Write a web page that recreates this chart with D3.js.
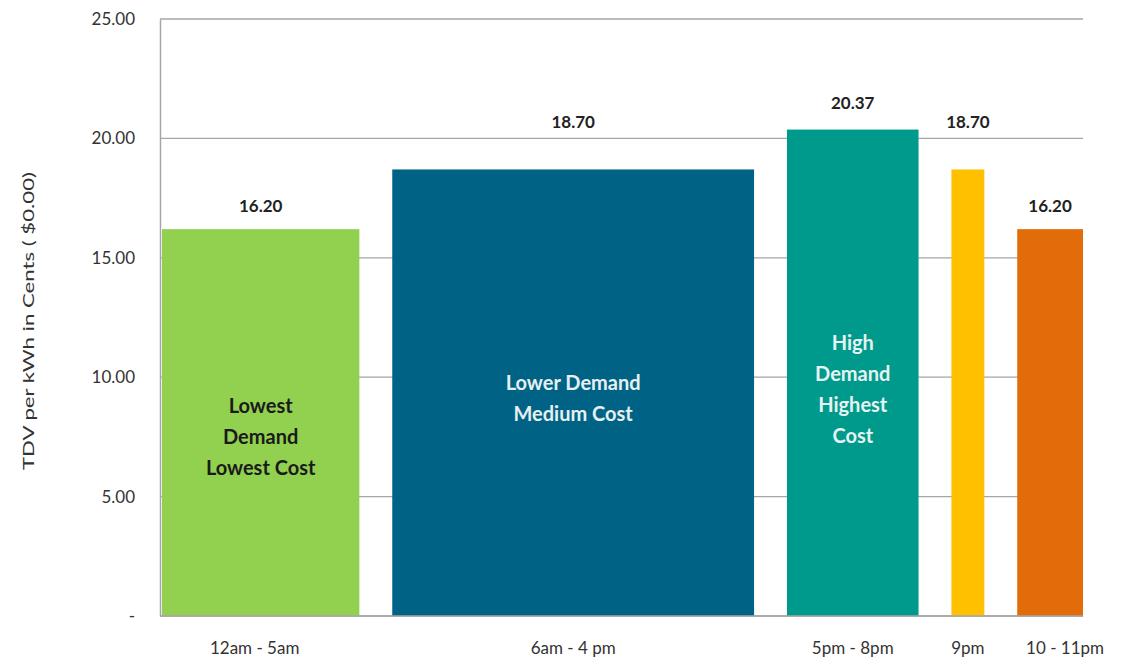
<!DOCTYPE html>
<html lang="en">
<head>
<meta charset="UTF-8">
<script src="https://d3js.org/d3.v7.min.js"></script>
<title>TDV per kWh</title>
<style>
  body { margin: 0; background: #fff; }
  text { font-family: Lato, "Open Sans", sans-serif; }
</style>
</head>
<body>
<div id="chart"></div>
<script>
    // data
    const periods = ["12am - 5am", "6am - 4 pm", "5pm - 8pm", "9pm", "10 - 11pm"]
    const hours = [6, 11, 4, 1, 2]
    const values = [16.20, 18.70, 20.37, 18.70, 16.20]
    const notes = [["Lowest", "Demand", "Lowest Cost"], ["Lower Demand", "Medium Cost"], ["High", "Demand", "Highest", "Cost"], [], []]
    const yTicks = [0, 5, 10, 15, 20, 25]

    // style
    const colors = ["#92D050", "#006386", "#009A8C", "#FFC000", "#E36C0A"]
    const noteColors = ["#1a1a1a", "#e6f0f2", "#e6f3f1", "#000", "#000"]
    const noteMid = [437, 398, 389, 0, 0]     // vertical centre of inner text
    const labelLift = [17, 41, 21, 41, 17]    // excel put the value labels at odd heights

    const width = 1121, height = 662
    const plotL = 160, plotR = 1083, plotT = 19, plotB = 616
    const gap = 1   // gap between bars in "hour" units

    const svg = d3.select("#chart").append("svg")
        .attr("width", width)
        .attr("height", height)

    // start of each bar, in hours incl. gaps
    let acc = 0
    const starts = hours.map(h => { const s = acc; acc += h + gap; return s })
    const total = acc - gap

    const x = d3.scaleLinear().domain([0, total]).range([plotL + 2, plotR])
    const y = d3.scaleLinear().domain([0, 25]).range([plotB, plotT])

    // gridlines
    svg.append("g")
        .selectAll("line")
        .data(yTicks)
        .join("line")
          .attr("x1", plotL).attr("x2", plotR)
          .attr("y1", d => y(d)).attr("y2", d => y(d))
          .attr("stroke", "#a6a6a6")
          .attr("stroke-width", 1.3)

    // y axis
    const yAxis = svg.append("g")
        .attr("transform", `translate(${plotL},0)`)
        .call(d3.axisLeft(y).tickValues(yTicks).tickSize(0).tickPadding(25)
            .tickFormat(d => d === 0 ? "-" : d3.format(".2f")(d)))
    yAxis.select(".domain").attr("stroke", "#a6a6a6").attr("stroke-width", 1.5)
    yAxis.selectAll("text").attr("font-size", 17).attr("fill", "#333")

    // the title in the picture is stretched along its length
    svg.append("text")
        .attr("transform", `translate(34,321) rotate(-90)`)
        .attr("text-anchor", "middle")
        .attr("font-size", 16)
        .attr("fill", "#333")
        .attr("textLength", 298)
        .attr("lengthAdjust", "spacingAndGlyphs")
        .text("TDV per kWh  in Cents ( $0.00)")

    // bars
    svg.append("g")
        .selectAll("rect")
        .data(values)
        .join("rect")
          .attr("x", (d, i) => x(starts[i]))
          .attr("width", (d, i) => x(starts[i] + hours[i]) - x(starts[i]))
          .attr("y", d => y(d))
          .attr("height", d => y(0) - y(d))
          .attr("fill", (d, i) => colors[i])

    // baseline
    svg.append("line")
        .attr("x1", plotL).attr("x2", plotR)
        .attr("y1", y(0)).attr("y2", y(0))
        .attr("stroke", "#a6a6a6")
        .attr("stroke-width", 1.5)

    // value labels
    svg.append("g")
        .selectAll("text")
        .data(values)
        .join("text")
          .attr("x", (d, i) => x(starts[i] + hours[i] / 2))
          .attr("y", (d, i) => y(d) - labelLift[i])
          .attr("text-anchor", "middle")
          .attr("font-size", 17)
          .attr("font-weight", "bold")
          .attr("fill", "#222")
          .text(d => d3.format(".2f")(d))

    // notes inside bars
    notes.forEach((lines, i) => {
        const cx = x(starts[i] + hours[i] / 2)
        lines.forEach((t, j) => {
            svg.append("text")
                .attr("x", cx)
                .attr("y", noteMid[i] + (j - (lines.length - 1) / 2) * 31)
                .attr("dy", "0.35em")
                .attr("text-anchor", "middle")
                .attr("font-size", 20)
                .attr("font-weight", "bold")
                .attr("fill", noteColors[i])
                .text(t)
        })
    })

    // x labels
    svg.append("g")
        .selectAll("text")
        .data(periods)
        .join("text")
          .attr("x", (d, i) => x(starts[i] + hours[i] / 2) + (i === 4 ? 15 : (i === 0 ? -6 : 0)))
          .attr("y", 654)
          .attr("text-anchor", "middle")
          .attr("font-size", 17)
          .attr("fill", "#333")
          .text(d => d)
</script>
</body>
</html>
